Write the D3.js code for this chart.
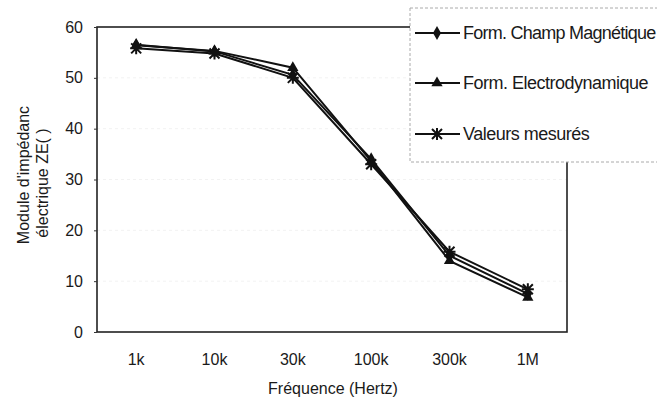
<!DOCTYPE html>
<html><head><meta charset="utf-8">
<script src="https://cdn.jsdelivr.net/npm/d3@7"></script>
<style>body{margin:0;background:#fff}svg{display:block}text{font-family:"Liberation Sans",Arial,sans-serif;fill:#1a1a1a}</style>
</head><body><svg id="c" width="657" height="403"></svg>
<script>
const categories = ["1k","10k","30k","100k","300k","1M"];
const champMagnetique = [56.5, 55.2, 50.6, 34.0, 15.0, 7.5];
const electrodynamique = [56.4, 55.3, 52.0, 33.6, 14.0, 6.8];
const mesures = [55.8, 54.8, 50.0, 33.0, 15.8, 8.4];
const yTicks = [0,10,20,30,40,50,60];
const seriesNames = ["Form. Champ Magnétique","Form. Electrodynamique","Valeurs mesurés"];

const svg = d3.select("#c");
const L=97, R=567, T=27, B=332;
const x = d3.scaleBand().domain(categories).range([L,R]);
const y = d3.scaleLinear().domain([0,60]).range([B,T]);
const FONT = "Liberation Sans, Arial, sans-serif";

// faint gridlines
svg.append("g").selectAll("line").data(yTicks.slice(1,-1)).join("line")
  .attr("x1",L).attr("x2",R).attr("y1",d=>y(d)).attr("y2",d=>y(d))
  .attr("stroke","#f2f2f2").attr("stroke-dasharray","3,3");

// frame
svg.append("rect").attr("x",L).attr("y",T).attr("width",R-L).attr("height",B-T)
  .attr("fill","none").attr("stroke","#222").attr("stroke-width",1.6);

// y axis
const ya = svg.append("g").attr("transform",`translate(${L},0)`)
  .call(d3.axisLeft(y).tickValues(yTicks).tickSize(3).tickPadding(11));
ya.select(".domain").remove();
ya.selectAll("line").attr("stroke","#333");
ya.selectAll("text").attr("font-size",16).style("font-family",FONT).attr("fill","#1a1a1a");

// x axis labels
const xa = svg.append("g").attr("transform",`translate(0,${B})`)
  .call(d3.axisBottom(x).tickSize(0).tickPadding(0));
xa.select(".domain").remove();
xa.selectAll("text").attr("font-size",16).style("font-family",FONT).attr("fill","#1a1a1a")
  .attr("dy",null).attr("y",33);

svg.append("text").attr("x",(L+R)/2+1).attr("y",394).attr("text-anchor","middle")
  .attr("font-size",16).text("Fréquence (Hertz)");

svg.append("text").attr("transform","translate(29,175) rotate(-90)").attr("text-anchor","middle")
  .attr("font-size",16).text("Module d'impédanc");
svg.append("text").attr("transform","translate(48,183) rotate(-90)").attr("text-anchor","middle")
  .attr("font-size",16).text("électrique ZE(  )");

const cx = d => x(d)+x.bandwidth()/2;
const data = [champMagnetique, electrodynamique, mesures];
const symbols = [d3.symbolDiamond, d3.symbolTriangle, null];
const line = d3.line().x((v,i)=>cx(categories[i])).y(v=>y(v));

function drawMarker(g, k, px, py){
  if(k===2){
    const s=5;
    const p = `M${px-s},${py-s}L${px+s},${py+s}M${px+s},${py-s}L${px-s},${py+s}M${px},${py-s-1}L${px},${py+s+1}M${px-s-1},${py}L${px+s+1},${py}`;
    g.append("path").attr("d",p).attr("stroke","#111").attr("stroke-width",2).attr("fill","none");
  } else {
    g.append("path").attr("d",d3.symbol().type(symbols[k]).size(55)())
      .attr("transform",`translate(${px},${py})`).attr("fill","#111");
  }
}

data.forEach((vals,k)=>{
  svg.append("path").datum(vals).attr("d",line).attr("fill","none")
    .attr("stroke","#111").attr("stroke-width",2);
});
data.forEach((vals,k)=>{
  const g = svg.append("g");
  vals.forEach((v,i)=>drawMarker(g,k,cx(categories[i]),y(v)));
});

// legend
const lg = svg.append("g");
lg.append("rect").attr("x",410).attr("y",8).attr("width",260).attr("height",154)
  .attr("fill","#fff").attr("stroke","#aaa").attr("stroke-dasharray","3,2");
const ly = [33, 83, 134];
seriesNames.forEach((n,k)=>{
  lg.append("line").attr("x1",415).attr("x2",460).attr("y1",ly[k]).attr("y2",ly[k])
    .attr("stroke","#111").attr("stroke-width",2);
  drawMarker(lg,k,437,ly[k]);
  const t = lg.append("text").attr("x",463).attr("y",ly[k]+6).attr("font-size",18)
    .attr("letter-spacing","-0.5").text(n);
  if(k===0) t.attr("letter-spacing","-0.75");
});
</script></body></html>
